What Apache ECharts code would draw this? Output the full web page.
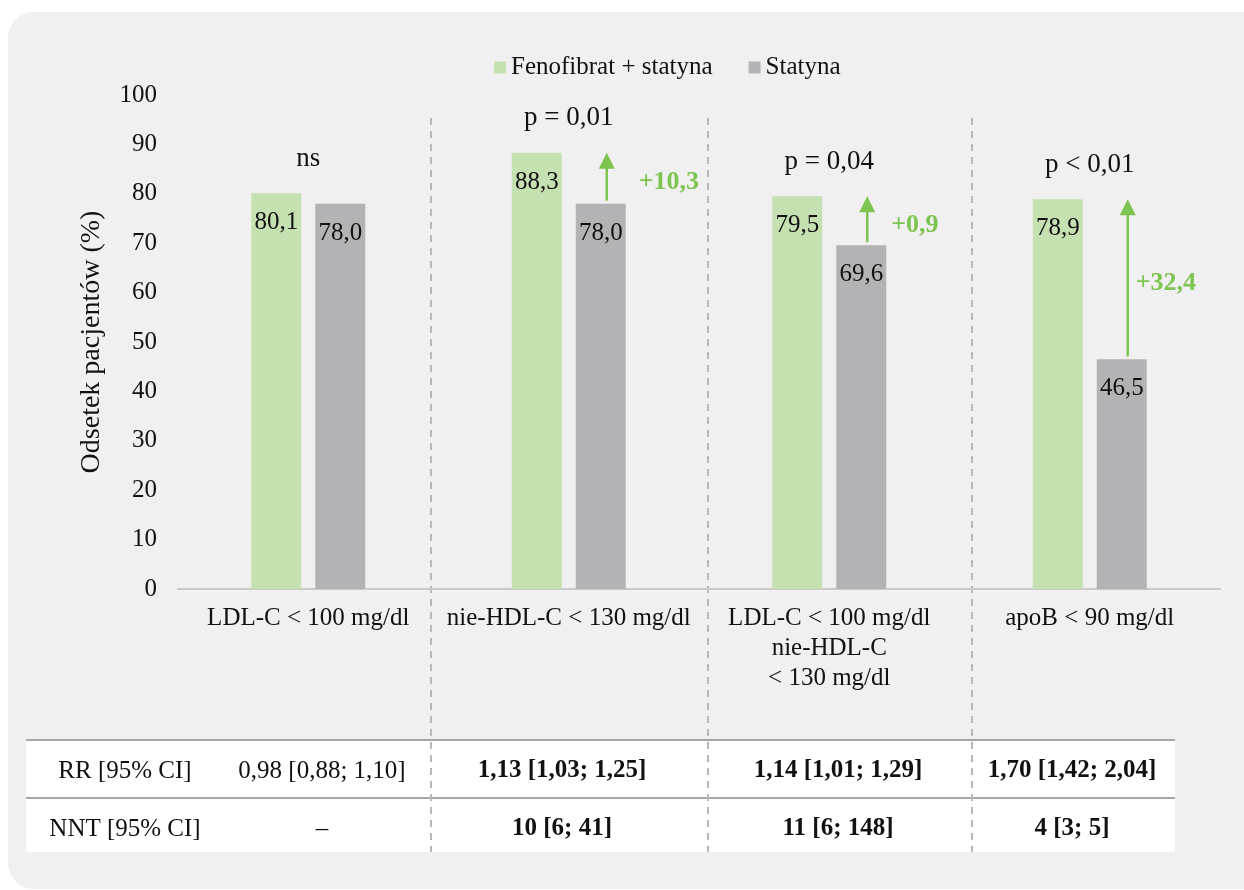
<!DOCTYPE html>
<html>
<head>
<meta charset="utf-8">
<script src="https://cdn.jsdelivr.net/npm/echarts@6/dist/echarts.min.js"></script>
<style>
  html, body { margin: 0; padding: 0; background: #ffffff; }
  #chart { width: 1244px; height: 890px; }
</style>
</head>
<body>
<div id="chart"></div>
<script>
// Chart data
const categories = ['LDL-C < 100 mg/dl', 'nie-HDL-C < 130 mg/dl', 'LDL-C < 100 mg/dl\nnie-HDL-C\n< 130 mg/dl', 'apoB < 90 mg/dl'];
const fenoValues = [80.1, 88.3, 79.5, 78.9];
const statValues = [78.0, 78.0, 69.6, 46.5];
const pTexts = ['ns', 'p = 0,01', 'p = 0,04', 'p < 0,01'];
const deltaTexts = ['', '+10,3', '+0,9', '+32,4'];
const yTicks = { min: 0, max: 100, interval: 10 };

// Table under the chart
const rowLabels = ['RR [95% CI]', 'NNT [95% CI]'];
const rrValues = ['0,98 [0,88; 1,10]', '1,13 [1,03; 1,25]', '1,14 [1,01; 1,29]', '1,70 [1,42; 2,04]'];
const nntValues = ['–', '10 [6; 41]', '11 [6; 148]', '4 [3; 5]'];

// Colours and fonts
const GREEN = '#c5e0b1';
const GRAY = '#b3b3b5';
const ARROW_GREEN = '#7dc451';
const FONT = 'Liberation Serif';

const chart = echarts.init(document.getElementById('chart'));

// arrows go from the statin bar up to the fenofibrate value
const arrowData = [];
deltaTexts.forEach(function (t, i) {
    if (t) arrowData.push([i, statValues[i], fenoValues[i], t]);
});
const labelDx = { 1: 32, 2: 24, 3: 8 };

// p-value texts sit a bit above the tallest bar of each group
const pData = categories.map(function (c, i) {
    return [i, Math.max(fenoValues[i], statValues[i]) + 7];
});

function renderArrow(params, api) {
    const idx = api.value(0);
    const x = api.coord([idx, 0])[0] + 38;
    const yFrom = api.coord([idx, api.value(1)])[1] - 3;
    const yTo = api.coord([idx, api.value(2)])[1];
    const text = deltaTexts[idx];
    return {
        type: 'group',
        children: [
            { type: 'line', shape: { x1: x, y1: yFrom, x2: x, y2: yTo + 14 },
              style: { stroke: ARROW_GREEN, lineWidth: 2.5 } },
            { type: 'polygon', shape: { points: [[x, yTo], [x - 8, yTo + 16], [x + 8, yTo + 16]] },
              style: { fill: ARROW_GREEN } },
            { type: 'text', x: x + labelDx[idx], y: (yFrom + yTo) / 2 + 6,
              style: { text: text, fill: ARROW_GREEN, font: 'bold 26px "' + FONT + '"',
                       textAlign: 'left', textVerticalAlign: 'middle' } }
        ]
    };
}

// Decorations: panel, table, dashed separators
const graphics = [
    { type: 'rect', z: -10, shape: { x: 8, y: 12, width: 1262, height: 877, r: 26 }, style: { fill: '#f0f0f0' } },
    { type: 'rect', z: -9, shape: { x: 26, y: 739, width: 1149, height: 113 }, style: { fill: '#ffffff' } },
    { type: 'line', z: -8, shape: { x1: 26, y1: 740, x2: 1175, y2: 740 }, style: { stroke: '#a6a6a6', lineWidth: 2 } },
    { type: 'line', z: -8, shape: { x1: 26, y1: 798, x2: 1175, y2: 798 }, style: { stroke: '#a6a6a6', lineWidth: 2 } }
];
[431, 708, 972].forEach(function (x) {
    graphics.push({ type: 'line', z: -7, shape: { x1: x, y1: 118, x2: x, y2: 852 },
        style: { stroke: '#b8b8b8', lineWidth: 2, lineDash: [7, 6] } });
});
const colCenters = [322, 562, 838, 1072];
const rowCenters = [771, 829];
[rrValues, nntValues].forEach(function (row, r) {
    graphics.push({ type: 'text', z: -6, x: 125, y: rowCenters[r],
        style: { text: rowLabels[r], font: '25px "' + FONT + '"', fill: '#111', textAlign: 'center', textVerticalAlign: 'middle' } });
    row.forEach(function (v, c) {
        graphics.push({ type: 'text', z: -6, x: colCenters[c], y: rowCenters[r],
            style: { text: v, font: (c > 0 ? 'bold ' : '') + '25px "' + FONT + '"', fill: '#111',
                     textAlign: 'center', textVerticalAlign: 'middle' } });
    });
});

const option = {
    backgroundColor: '#ffffff',
    textStyle: { fontFamily: FONT },
    animation: false,
    graphic: graphics,
    legend: {
        left: 489,
        top: 50,
        icon: 'rect',
        itemWidth: 12,
        itemHeight: 12,
        itemGap: 36,
        textStyle: { fontSize: 25, color: '#111', fontFamily: FONT },
        data: ['Fenofibrat + statyna', 'Statyna']
    },
    grid: { left: 178, right: 24, top: 95, bottom: 301 },
    xAxis: {
        type: 'category',
        data: categories,
        axisLine: { lineStyle: { color: '#c9c9c9', width: 2 } },
        axisTick: { show: false },
        axisLabel: { interval: 0, fontSize: 25, lineHeight: 30, margin: 14, color: '#111', fontFamily: FONT }
    },
    yAxis: {
        type: 'value',
        min: yTicks.min,
        max: yTicks.max,
        interval: yTicks.interval,
        name: 'Odsetek pacjentów (%)',
        nameLocation: 'middle',
        nameRotate: 90,
        nameGap: 72,
        nameTextStyle: { fontSize: 28, color: '#111', fontFamily: FONT },
        axisLine: { show: false },
        axisTick: { show: false },
        splitLine: { show: false },
        axisLabel: { fontSize: 25, margin: 21, color: '#111', fontFamily: FONT }
    },
    series: [
        {
            name: 'Fenofibrat + statyna',
            type: 'bar',
            data: fenoValues,
            barWidth: 50,
            barGap: '28%',
            itemStyle: { color: GREEN },
            label: { show: true, position: 'insideTop', distance: 17, fontSize: 25, color: '#111', fontFamily: FONT,
                     formatter: function (p) { return p.value.toFixed(1).replace('.', ','); } }
        },
        {
            name: 'Statyna',
            type: 'bar',
            data: statValues,
            barWidth: 50,
            itemStyle: { color: GRAY },
            label: { show: true, position: 'insideTop', distance: 17, fontSize: 25, color: '#111', fontFamily: FONT,
                     formatter: function (p) { return p.value.toFixed(1).replace('.', ','); } }
        },
        {
            name: 'p',
            type: 'scatter',
            data: pData,
            symbolSize: 1,
            itemStyle: { color: 'rgba(0,0,0,0)', opacity: 1 },
            silent: true,
            z: 5,
            label: { show: true, position: 'inside', fontSize: 27, color: '#111', fontFamily: FONT,
                     formatter: function (p) { return pTexts[p.dataIndex]; } }
        },
        {
            name: 'delta',
            type: 'custom',
            data: arrowData,
            renderItem: renderArrow,
            silent: true,
            z: 6
        }
    ]
};

chart.setOption(option);
</script>
</body>
</html>
